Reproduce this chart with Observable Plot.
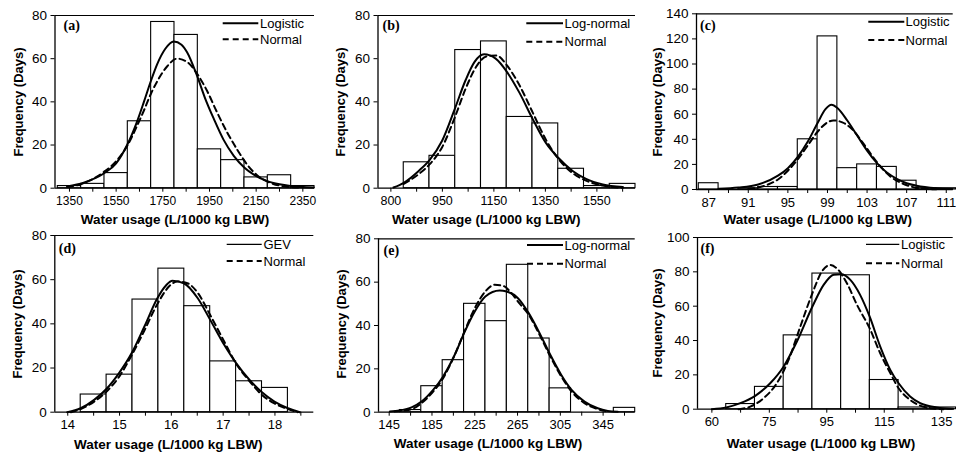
<!DOCTYPE html>
<html><head><meta charset="utf-8">
<script src="https://cdn.jsdelivr.net/npm/d3@7"></script>
<script src="https://cdn.jsdelivr.net/npm/@observablehq/plot@0.6"></script>
<style>
body{margin:0;background:#fff;}
#wrap{position:relative;width:956px;height:453px;overflow:hidden;font-family:"Liberation Sans",Arial,sans-serif;color:#000;}
.panel{position:absolute;z-index:1;}
.ytitle{position:absolute;font-weight:bold;font-size:13px;white-space:nowrap;transform:translate(-50%,-50%) rotate(-90deg);z-index:2;}
.xtitle{position:absolute;font-weight:bold;font-size:13.5px;white-space:nowrap;transform:translate(-50%,-50%);z-index:2;}
#legend{position:absolute;left:0;top:0;z-index:0;}
</style></head><body><div id="wrap"></div><script>
// ---------- data ----------
const yTitle = "Frequency (Days)";
const xTitle = "Water usage (L/1000 kg LBW)";
const normalName = "Normal";

// (a)
const aBinLo = [1300,1400,1500,1600,1700,1800,1900,2000,2100,2200,2300];
const aCounts = [1,2,7,31,77,71,18,13,5,6,1];
const aTickAt = [1350,1450,1550,1650,1750,1850,1950,2050,2150,2250,2350];
const aLabelAt = [1350,1550,1750,1950,2150,2350];
const aLabels = ["1350","1550","1750","1950","2150","2350"];
const aYTicks = [0,20,40,60,80];
const aFitName = "Logistic";
const aFit = [[1340,0.8],[1411,2.6],[1497,6.8],[1550,11.5],[1597,20],[1640,31],[1669,40],[1700,50],[1726,57.5],[1760,64.5],[1797,68],[1830,66.5],[1854,63],[1897,52],[1930,42],[1969,32],[2010,22.5],[2054,15],[2100,9.5],[2140,6.3],[2197,3.3],[2250,1.8],[2297,1],[2397,0.3]];
const aNormal = [[1340,0.5],[1411,2.3],[1497,7.5],[1550,12.5],[1597,19.5],[1640,29],[1669,36],[1700,44],[1726,49.5],[1769,56.5],[1811,60],[1854,58.5],[1897,53],[1940,45],[1983,35],[2025,26],[2068,18],[2111,11],[2154,6],[2211,2.5],[2260,1],[2330,0.3]];

// (b)
const bBinLo = [800,900,1000,1100,1200,1300,1400,1500,1600];
const bCounts = [12,15,64,68,33,30,9,1,2];
const bTickAt = [750,850,950,1050,1150,1250,1350,1450,1550,1650];
const bLabelAt = [750,950,1150,1350,1550];
const bLabels = ["800","950","1150","1350","1550"];
const bYTicks = [0,20,40,60,80];
const bFitName = "Log-normal";
const bFit = [[760,0.3],[800,2.5],[858,8],[900,13],[949,22],[999,37],[1040,50],[1075,58.5],[1112,62],[1157,60],[1200,54],[1248,44.5],[1301,32],[1352,21],[1401,14],[1456,8],[1508,4.3],[1573,1.7],[1651,0.5]];
const bNormal = [[800,2],[858,6.5],[900,11],[949,19],[999,33],[1040,46],[1080,56],[1120,61],[1160,61.5],[1200,57],[1248,48],[1301,35],[1352,22.5],[1401,13.5],[1456,7],[1508,3.5],[1573,1.2],[1651,0.2]];

// (c)
const cBinLo = [86,88,90,92,94,96,98,100,102,104,106,108,110];
const cCounts = [5,0,1,2,2,40,122,17,20,18,7,1,1];
const cTickAt = [87,89,91,93,95,97,99,101,103,105,107,109,111];
const cLabelAt = [87,91,95,99,103,107,111];
const cLabels = ["87","91","95","99","103","107","111"];
const cYTicks = [0,20,40,60,80,100,120,140];
const cFitName = "Logistic";
const cFit = [[88,0.5],[90,1.5],[92,4],[94,11],[95,17],[96,26],[97,38],[98,53],[98.8,64],[99.4,67.5],[100,65],[101,55],[102,43],[103,31],[104,21],[105,13.5],[106,8.5],[107,5],[108,3],[110,1],[111.6,0.4]];
const cNormal = [[91,0.5],[92,1.5],[93,4],[94,8],[95,15],[96,24],[97,35],[98,46],[99,53.5],[99.6,55],[100.5,53.5],[101.5,48],[102.5,38],[103.5,27],[104.5,17],[105.5,9.5],[106.5,5],[107.5,2.2],[108.5,0.8],[110,0.2]];

// (d)
const dBinLo = [14.25,14.75,15.25,15.75,16.25,16.75,17.25,17.75];
const dCounts = [8,17,51,65,48,23,14,11];
const dTickAt = [14,14.5,15,15.5,16,16.5,17,17.5,18,18.5];
const dLabelAt = [14,15,16,17,18];
const dLabels = ["14","15","16","17","18"];
const dYTicks = [0,20,40,60,80];
const dFitName = "GEV";
const dFit = [[13.99,0],[14.25,1.8],[14.51,5.6],[14.75,10.6],[14.99,17.7],[15.24,27],[15.48,38.8],[15.73,51.6],[15.9,57.5],[16.02,59.5],[16.24,58.4],[16.51,51.6],[16.75,41.8],[17.02,30.5],[17.25,22.2],[17.51,14.6],[17.75,9],[17.99,4.8],[18.25,1.8],[18.48,0]];
const dNormal = [[14.06,0],[14.25,1.4],[14.51,4.8],[14.75,9.4],[14.99,16],[15.24,26],[15.48,37],[15.73,49],[15.99,57.7],[16.12,59.2],[16.31,58.4],[16.51,54],[16.75,44],[17.02,32],[17.25,22],[17.51,14],[17.75,7.8],[17.99,4],[18.25,1.4],[18.44,0]];

// (e)
const eBinLo = [155,175,195,215,235,255,275,295,315,335,355];
const eCounts = [1,12,24,50,42,68,34,11,0,0,2];
const eTickAt = [145,165,185,205,225,245,265,285,305,325,345,365];
const eLabelAt = [145,185,225,265,305,345];
const eLabels = ["145","185","225","265","305","345"];
const eYTicks = [0,20,40,60,80];
const eFitName = "Log-normal";
const eFit = [[145.7,0.3],[155,0.8],[165.9,2.2],[175.2,4.9],[186.1,10.3],[195.4,16.5],[206.3,26.5],[215,36.5],[225,46.5],[234.9,53.4],[248.3,56.2],[254.8,55.7],[265.4,52.6],[275.4,45.7],[285.6,36.5],[295.6,26.5],[305.9,17.2],[315.5,10.3],[327.6,4.9],[340,1.8],[349.4,0.6],[358.7,0.2]];
const eNormal = [[150,0.3],[165.9,1.4],[175.2,4.2],[186.1,9.5],[195.4,15.7],[206.3,26.5],[215,36.8],[225,48],[234.9,55.7],[243.6,58.8],[251.4,58.3],[259.2,55],[265.4,51],[275.4,45],[285.6,35.7],[295.6,25.7],[305.9,16.5],[315.5,9.5],[327.6,4.2],[340,1.4],[349.4,0.3]];

// (f)
const fBinLo = [60,70,80,90,100,110,120,130];
const fCounts = [3,13,43,79,78,17,1,1];
const fTickAt = [55,65,75,85,95,105,115,125,135];
const fLabelAt = [55,75,95,115,135];
const fLabels = ["60","75","95","115","135"];
const fYTicks = [0,20,40,60,80,100];
const fFitName = "Logistic";
const fFit = [[55,0],[60,1],[64.9,3.5],[70.1,7.8],[75.3,15.1],[80,24.9],[84.6,39.4],[90,59.8],[93.9,72.4],[97.4,78.3],[100,78.6],[103.2,75.3],[106.6,66.6],[109.9,54],[113.6,36.5],[117.1,22.9],[120,15.1],[124,7.4],[127.5,3.5],[133.3,1],[139,0.2]];
const fNormal = [[64.3,0],[68.4,1.5],[73,6.4],[77.6,15.1],[81.7,28.7],[85.8,48.2],[90,67.6],[93.3,80.2],[96.2,84],[98.5,82],[102,73.4],[105.5,60.8],[109.9,47.2],[113.6,32.6],[117.1,21],[120,12.2],[124,5.4],[127.5,2.1],[131,0.6],[135.6,0]];

// ---------- layout ----------
const panels = [
 {letter:"(a)", box:{x:0,y:0,w:318,h:226}, L:54.5,R:314,T:15,B:187.7, xDomain:[1288,2400], yMax:80, binLo:aBinLo, binW:100, counts:aCounts, tickAt:aTickAt, labelAt:aLabelAt, labels:aLabels, yTicks:aYTicks, fitName:aFitName, fit:aFit, normal:aNormal, xFont:12, letterDx:8.5, letterDy:4.5, yt:[18.3,101.7], xt:[175,219], leg:{x1:222.7,x2:258.3,y1:23.3,y2:39.3,tx:260,w1:2}},
 {letter:"(b)", box:{x:318,y:0,w:318,h:226}, L:377.5,R:635,T:15,B:187.7, xDomain:[700,1700], yMax:80, binLo:bBinLo, binW:100, counts:bCounts, tickAt:bTickAt, labelAt:bLabelAt, labels:bLabels, yTicks:bYTicks, fitName:bFitName, fit:bFit, normal:bNormal, xFont:12.5, letterDx:4.5, letterDy:4.5, yt:[339.7,102], xt:[486.3,218.5], leg:{x1:526.3,x2:563,y1:23.3,y2:41.7,tx:564.5,w1:2}},
 {letter:"(c)", box:{x:636,y:0,w:320,h:226}, L:696,R:952.7,T:13.3,B:189, xDomain:[85.77,111.7], yMax:140, binLo:cBinLo, binW:2, counts:cCounts, tickAt:cTickAt, labelAt:cLabelAt, labels:cLabels, yTicks:cYTicks, fitName:cFitName, fit:cFit, normal:cNormal, xFont:13, letterDx:3.5, letterDy:6.2, yt:[656.7,101.7], xt:[817.7,219], leg:{x1:868.3,x2:904.3,y1:21.7,y2:40,tx:905.5,w1:2}},
 {letter:"(d)", box:{x:0,y:226,w:318,h:227}, L:54.3,R:313.3,T:235,B:411.7, xDomain:[13.75,18.75], yMax:80, binLo:dBinLo, binW:0.5, counts:dCounts, tickAt:dTickAt, labelAt:dLabelAt, labels:dLabels, yTicks:dYTicks, fitName:dFitName, fit:dFit, normal:dNormal, xFont:13, letterDx:4, letterDy:8, yt:[17.3,324.3], xt:[168.3,444.3], leg:{x1:226.7,x2:261.7,y1:244.3,y2:261,tx:263.5,w1:1.2}},
 {letter:"(e)", box:{x:318,y:226,w:318,h:227}, L:378,R:634.7,T:238.3,B:411.7, xDomain:[135,375], yMax:80, binLo:eBinLo, binW:20, counts:eCounts, tickAt:eTickAt, labelAt:eLabelAt, labels:eLabels, yTicks:eYTicks, fitName:eFitName, fit:eFit, normal:eNormal, xFont:13, letterDx:5, letterDy:6.5, yt:[341.3,324.3], xt:[488,443.3], leg:{x1:527,x2:563,y1:245,y2:263.7,tx:564.5,w1:2}},
 {letter:"(f)", box:{x:636,y:226,w:320,h:227}, L:697,R:952.7,T:237,B:408.7, xDomain:[50,139], yMax:100, binLo:fBinLo, binW:10, counts:fCounts, tickAt:fTickAt, labelAt:fLabelAt, labels:fLabels, yTicks:fYTicks, fitName:fFitName, fit:fFit, normal:fNormal, xFont:13, letterDx:3, letterDy:6, yt:[657,322.7], xt:[821,442.7], leg:{x1:866,x2:899.3,y1:244.3,y2:263.3,tx:901,w1:1.2}}
];

const wrap = document.getElementById("wrap");

// legend layer (under plots so the white bars cover it, as in the original)
const leg = d3.select(wrap).append("svg").attr("id","legend").attr("width",956).attr("height",453);

for (const p of panels) {
  const bars = p.binLo.map((lo,i)=>({lo, hi: lo + p.binW, zero: 0, count: p.counts[i]})).filter(d=>d.count>0);
  const labelMap = new Map(p.labelAt.map((v,i)=>[v,p.labels[i]]));
  const chart = Plot.plot({
    width: p.box.w, height: p.box.h,
    marginLeft: p.L - p.box.x, marginRight: p.box.x + p.box.w - p.R,
    marginTop: p.T - p.box.y, marginBottom: p.box.y + p.box.h - p.B,
    x: {domain: p.xDomain},
    y: {domain: [0, p.yMax]},
    style: {background:"transparent", overflow:"visible", fontFamily:"'Liberation Sans', Arial, sans-serif", color:"black"},
    marks: [
      Plot.rect(bars, {x1:"lo", x2:"hi", y1:"zero", y2:"count", fill:"white", stroke:"black", strokeWidth:1.1}),
      Plot.line(p.normal, {x:d=>d[0], y:d=>d[1], curve:"monotone-x", stroke:"black", strokeWidth:2, strokeDasharray:"6,4"}),
      Plot.line(p.fit, {x:d=>d[0], y:d=>d[1], curve:"monotone-x", stroke:"black", strokeWidth:2}),
      Plot.ruleY([0], {stroke:"black", strokeWidth:1.3}),
      Plot.ruleY([p.yMax], {stroke:"black", strokeWidth:1.2}),
      Plot.ruleX([p.xDomain[0]], {stroke:"black", strokeWidth:1.3}),
      Plot.axisY({ticks: p.yTicks, tickSize: 4, tickPadding: 4, fontSize: 13.5, label: null, tickFormat: d=>String(d)}),
      Plot.axisX({ticks: p.tickAt, tickSize: 4, tickPadding: 4, fontSize: p.xFont, label: null, tickFormat: d => labelMap.has(d) ? labelMap.get(d) : ""}),
      Plot.text([p.letter], {frameAnchor:"top-left", text:d=>d, dx:p.letterDx, dy:p.letterDy, lineAnchor:"top", textAnchor:"start", fontFamily:"'Liberation Serif', 'Times New Roman', serif", fontWeight:"bold", fontSize:14})
    ]
  });
  const div = document.createElement("div");
  div.className = "panel";
  div.style.left = p.box.x + "px";
  div.style.top = p.box.y + "px";
  div.appendChild(chart);
  wrap.appendChild(div);

  const yt = document.createElement("div");
  yt.className = "ytitle"; yt.textContent = yTitle;
  yt.style.left = p.yt[0] + "px"; yt.style.top = p.yt[1] + "px";
  wrap.appendChild(yt);
  const xt = document.createElement("div");
  xt.className = "xtitle"; xt.textContent = xTitle;
  xt.style.left = p.xt[0] + "px"; xt.style.top = p.xt[1] + "px";
  wrap.appendChild(xt);

  const g = p.leg;
  leg.append("line").attr("x1",g.x1).attr("x2",g.x2).attr("y1",g.y1).attr("y2",g.y1).attr("stroke","black").attr("stroke-width",g.w1);
  leg.append("line").attr("x1",g.x1).attr("x2",g.x2).attr("y1",g.y2).attr("y2",g.y2).attr("stroke","black").attr("stroke-width",2).attr("stroke-dasharray","6,4");
  leg.append("text").attr("x",g.tx).attr("y",g.y1).attr("dy","0.35em").attr("font-size",13).attr("font-family","'Liberation Sans', Arial, sans-serif").text(p.fitName);
  leg.append("text").attr("x",g.tx).attr("y",g.y2).attr("dy","0.35em").attr("font-size",13).attr("font-family","'Liberation Sans', Arial, sans-serif").text(normalName);
}
</script></body></html>
